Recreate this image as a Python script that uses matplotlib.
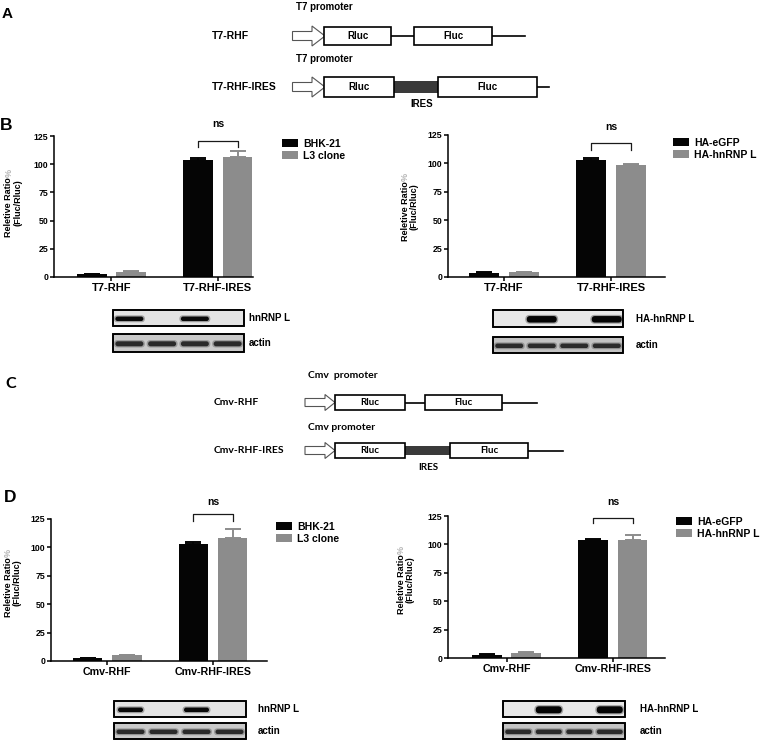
import numpy as np
import matplotlib
matplotlib.use('Agg')
import matplotlib.pyplot as plt
from matplotlib.patches import Rectangle, Polygon, FancyBboxPatch

W, H = 760, 743

plt.rcParams['font.family'] = ['Liberation Sans', 'DejaVu Sans']
plt.rcParams['font.weight'] = 'bold'
plt.rcParams['axes.linewidth'] = 1.1

COLORS = ['#050505', '#8c8c8c']
CAL = ['Lato', 'DejaVu Sans']

# bar chart data (mean, upper error), series x group
t7_groups = ['T7-RHF', 'T7-RHF-IRES']
cmv_groups = ['Cmv-RHF', 'Cmv-RHF-IRES']
cell_names = ['BHK-21', 'L3 clone']
ha_names = ['HA-eGFP', 'HA-hnRNP L']

b_cell_mean = [[2.7, 103.7], [4.7, 106.6]]
b_cell_err = [[0.2, 1.5], [0.2, 5.4]]
b_ha_mean = [[3.8, 103.0], [4.1, 98.6]]
b_ha_err = [[0.8, 1.5], [0.2, 0.8]]
d_cell_mean = [[2.7, 103.0], [5.0, 108.0]]
d_cell_err = [[0.2, 1.9], [0.2, 7.9]]
d_ha_mean = [[3.0, 103.6], [4.8, 103.6]]
d_ha_err = [[0.2, 1.2], [0.2, 4.7]]

yticks = [0, 25, 50, 75, 100, 125]

# western blots: band strength per lane
kd_lanes = [1, 0, 1, 0]
oe_lanes = [0, 1, 0, 1]
actin_lanes = [1, 1, 1, 1]


fig = plt.figure(figsize=(W / 100, H / 100), dpi=100)
ov = fig.add_axes([0, 0, 1, 1])
ov.set_xlim(0, W)
ov.set_ylim(H, 0)
ov.axis('off')


def construct(name, nx, y, arrow, hw, parts, fam, fs):
    ov.text(nx, y, name, ha='left', va='center', fontsize=fs, family=fam)
    x0, xh, x1, hb, hh = arrow
    ov.add_patch(Polygon([(x0, y - hb), (xh, y - hb), (xh, y - hh), (x1, y),
                          (xh, y + hh), (xh, y + hb), (x0, y + hb)],
                         closed=True, fc='white', ec='#555555', lw=0.8))
    for kind, a, b, txt in parts:
        if kind == 'box':
            ov.add_patch(Rectangle((a, y - hw), b - a, 2 * hw, fc='white',
                                   ec='black', lw=1.2, zorder=3))
            ov.text((a + b) / 2, y, txt, ha='center', va='center',
                    fontsize=fs - 0.5, family=fam, zorder=4)
        elif kind == 'ires':
            ov.add_patch(Rectangle((a, y - hw * 0.58), b - a, hw * 1.16,
                                   fc='#3a3a3a', ec='none', zorder=2))
        else:
            ov.plot([a, b], [y, y], color='black', lw=1.2, zorder=2)


def band(cx, yc, bw, bh, color, alpha):
    ov.add_patch(FancyBboxPatch((cx - bw / 2 - 1.5, yc - bh / 2 - 1.2), bw + 3, bh + 2.4,
                                boxstyle='round,pad=0,rounding_size=%f' % (bh / 2 + 1.2),
                                fc=color, ec='none', alpha=0.3 * alpha))
    ov.add_patch(FancyBboxPatch((cx - bw / 2, yc - bh / 2), bw, bh,
                                boxstyle='round,pad=0,rounding_size=%f' % (bh / 2),
                                fc=color, ec='none', alpha=alpha))


def blot(x0, x1, y0, y1, lanes, bg, bw, bh, bc, label, lx):
    ov.add_patch(Rectangle((x0, y0), x1 - x0, y1 - y0, fc=bg, ec='black', lw=1.2,
                           zorder=0.5))
    lw = (x1 - x0) / len(lanes)
    yc = (y0 + y1) / 2 + 0.8
    for i, v in enumerate(lanes):
        if v:
            band(x0 + (i + 0.5) * lw, yc, bw, bh, bc, v)
    ov.add_patch(Rectangle((x0, y0), x1 - x0, y1 - y0, fc='none', ec='black', lw=1.2))
    ov.text(lx, (y0 + y1) / 2, label, ha='left', va='center', fontsize=7)


def ylabel(x1, x2, yc):
    t = ov.text(x1, yc + 34, 'Reletive Ratio', rotation=90, ha='center',
                va='bottom', fontsize=6.5)
    ov.annotate('%', xy=(0.5, 1.0), xycoords=t, rotation=90, ha='center',
                va='bottom', fontsize=6.5, color='#b5b5b5')
    ov.text(x2, yc, '(Fluc/Rluc)', rotation=90, ha='center', va='center',
            fontsize=6.5)


def bar_panel(box, xlim, groups, names, means, errs, brk, leg_xy, xfs):
    l, t, r, b = box
    ax = fig.add_axes([l / W, 1 - b / H, (r - l) / W, (b - t) / H])
    ax.patch.set_alpha(0)
    x = np.arange(len(groups))
    offs = [-0.185, 0.185]
    handles = []
    for i in range(2):
        xs = x + offs[i]
        h = ax.bar(xs, means[i], 0.28, color=COLORS[i], zorder=2)
        ax.errorbar(xs, means[i], yerr=[np.zeros(len(xs)), errs[i]], fmt='none',
                    ecolor=COLORS[i], elinewidth=1.4, capsize=6, capthick=1.4,
                    zorder=1)
        handles.append(h)
    ax.set_ylim(0, 125)
    ax.set_yticks(yticks)
    ax.set_xlim(*xlim)
    ax.set_xticks(x, groups)
    for s in ['top', 'right']:
        ax.spines[s].set_visible(False)
    ax.tick_params(axis='y', direction='out', length=3, width=1.1, pad=1,
                   labelsize=6.3)
    ax.tick_params(axis='x', direction='out', length=3, width=1.1, pad=1.5,
                   labelsize=xfs)
    top, leg, ns_y = brk
    bx0, bx1 = x[1] + offs[0], x[1] + offs[1]
    ax.plot([bx0, bx0, bx1, bx1], [leg, top, top, leg], color='#1a1a1a',
            lw=0.9, clip_on=False)
    ax.text((bx0 + bx1) / 2, ns_y, 'ns', ha='center', va='center', fontsize=7.5)
    ax.legend(handles, names, loc='upper left',
              bbox_to_anchor=(leg_xy[0] / W, 1 - leg_xy[1] / H),
              bbox_transform=fig.transFigure, frameon=False, fontsize=7.5,
              handlelength=1.5, handleheight=0.8, handletextpad=0.5,
              labelspacing=0.15, borderpad=0, borderaxespad=0)
    return ax


# panel letters
ov.text(7, 14.5, 'A', ha='center', va='center', fontsize=11)
ov.text(6, 125, 'B', ha='center', va='center', fontsize=12.5)
ov.text(11, 384, 'C', ha='center', va='center', fontsize=11.5, family=CAL)
ov.text(10, 498, 'D', ha='center', va='center', fontsize=12.5)

# panel A constructs
ov.text(296, 6.5, 'T7 promoter', ha='left', va='center', fontsize=7)
construct('T7-RHF', 212, 36, (292.5, 312, 325, 4.5, 10), 9,
          [('box', 324, 391, 'Rluc'), ('line', 391, 414, ''),
           ('box', 414, 492, 'Fluc'), ('line', 492, 525, '')],
          ['Liberation Sans', 'DejaVu Sans'], 7.5)
ov.text(296, 59, 'T7 promoter', ha='left', va='center', fontsize=7)
construct('T7-RHF-IRES', 212, 87, (292.5, 312, 325, 4.5, 10), 10.3,
          [('box', 324, 394, 'Rluc'), ('ires', 394, 438, ''),
           ('box', 438, 537, 'Fluc'), ('line', 537, 549, '')],
          ['Liberation Sans', 'DejaVu Sans'], 7.5)
ov.text(422, 104, 'IRES', ha='center', va='center', fontsize=7)

# panel C constructs
ov.text(308, 375, 'Cmv  promoter', ha='left', va='center', fontsize=7.5, family=CAL)
construct('Cmv-RHF', 214, 402.5, (305, 325, 335, 4, 8), 7.5,
          [('box', 335, 405, 'Rluc'), ('line', 405, 425, ''),
           ('box', 425, 502, 'Fluc'), ('line', 502, 537, '')], CAL, 7.5)
ov.text(308, 427, 'Cmv promoter', ha='left', va='center', fontsize=7.5, family=CAL)
construct('Cmv-RHF-IRES', 214, 450.5, (305, 325, 335, 4, 8), 7.5,
          [('box', 335, 405, 'Rluc'), ('ires', 405, 450, ''),
           ('box', 450, 528, 'Fluc'), ('line', 528, 563, '')], CAL, 7.5)
ov.text(428, 467, 'IRES', ha='center', va='center', fontsize=7, family=CAL)

# panel B charts
bar_panel((54, 136, 253, 277), (-0.54, 1.33), t7_groups, cell_names,
          b_cell_mean, b_cell_err, (120.6, 115.2, 135.6), (282, 139), 8)
ylabel(9, 18, 203)
bar_panel((448, 135, 665, 277), (-0.52, 1.5), t7_groups, ha_names,
          b_ha_mean, b_ha_err, (118.0, 111.8, 132.0), (673, 138), 8)
ylabel(405, 414, 207)

# panel B blots
blot(113, 244, 310, 326, kd_lanes, '#e4e4e4', 28, 4.5, '#0a0a0a', 'hnRNP L', 249)
blot(113, 244, 334, 352, actin_lanes, '#c9c9c9', 28, 5, '#2a2a2a', 'actin', 249)
blot(493, 623, 310, 327, oe_lanes, '#e8e8e8', 30, 6.5, '#050505', 'HA-hnRNP L', 636)
blot(493, 623, 337, 353, actin_lanes, '#c2c2c2', 28, 4.5, '#2a2a2a', 'actin', 636)

# panel D charts
bar_panel((51, 519, 267, 661), (-0.53, 1.51), cmv_groups, cell_names,
          d_cell_mean, d_cell_err, (129.6, 123.4, 140.0), (276, 522), 7.7)
ylabel(8.5, 16.5, 583)
bar_panel((448, 516, 665, 658), (-0.55, 1.49), cmv_groups, ha_names,
          d_ha_mean, d_ha_err, (123.0, 118.7, 137.0), (676, 517), 7.7)
ylabel(401, 410, 580)

# panel D blots
blot(114, 246, 701, 717, kd_lanes, '#e4e4e4', 25, 4.5, '#0a0a0a', 'hnRNP L', 258)
blot(114, 246, 723, 739, actin_lanes, '#c9c9c9', 28, 4.5, '#2a2a2a', 'actin', 258)
blot(503, 625, 701, 717, oe_lanes, '#e8e8e8', 26, 7, '#050505', 'HA-hnRNP L', 640)
blot(503, 625, 723, 739, actin_lanes, '#c4c4c4', 26, 4.5, '#2a2a2a', 'actin', 640)

fig.savefig('out.png', dpi=100)
